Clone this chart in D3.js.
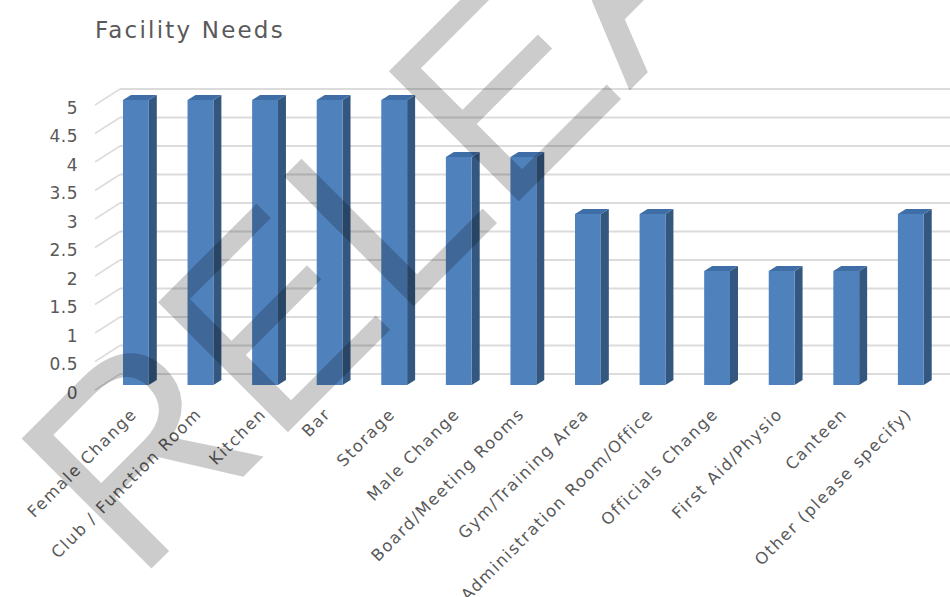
<!DOCTYPE html>
<html>
<head>
<meta charset="utf-8">
<script src="https://cdn.jsdelivr.net/npm/d3@7"></script>
<style>
  html, body { margin: 0; padding: 0; background: #ffffff; }
  svg { display: block; }
</style>
</head>
<body>
<svg id="chart" width="950" height="597"></svg>
<script>
const title = "Facility Needs";
const categories = [
  "Female Change", "Club / Function Room", "Kitchen", "Bar", "Storage",
  "Male Change", "Board/Meeting Rooms", "Gym/Training Area",
  "Administration Room/Office", "Officials Change", "First Aid/Physio",
  "Canteen", "Other (please specify)"
];
const values = [5, 5, 5, 5, 5, 4, 4, 3, 3, 2, 2, 2, 3];
const yTicks = [0, 0.5, 1, 1.5, 2, 2.5, 3, 3.5, 4, 4.5, 5];
const watermark = "RELEASED";

const svg = d3.select("#chart");
const W = 950, H = 597;

const x = d3.scaleBand()
  .domain(categories)
  .range([103.6, 943.1])
  .paddingInner(0.6)
  .paddingOuter(0.3);

const y = d3.scaleLinear().domain([0, 5]).range([385, 100]);

const depthX = 8, depthY = 5;
const wallBack = 11;

// Title
svg.append("text")
  .attr("x", 95).attr("y", 38)
  .attr("font-family", "DejaVu Sans, sans-serif")
  .attr("font-size", 23)
  .attr("letter-spacing", 2.2)
  .attr("fill", "#595959")
  .text(title);

// Gridlines (3D wall)
const grid = svg.append("g");
grid.selectAll("line.back").data(yTicks).join("line")
  .attr("class", "back")
  .attr("x1", 120).attr("x2", W)
  .attr("y1", d => y(d) - wallBack).attr("y2", d => y(d) - wallBack)
  .attr("stroke", "#dcdcdc").attr("stroke-width", 2.2);
grid.selectAll("line.side").data(yTicks).join("line")
  .attr("class", "side")
  .attr("x1", 95).attr("x2", 120)
  .attr("y1", d => y(d) + 5).attr("y2", d => y(d) - wallBack)
  .attr("stroke", "#dcdcdc").attr("stroke-width", 1.5);

// Y axis labels via d3 axis
const yAxis = d3.axisLeft(y).tickValues(yTicks).tickSize(0).tickPadding(0)
  .tickFormat(d3.format("~g"));
const yg = svg.append("g").attr("transform", "translate(78,8)").call(yAxis);
yg.select(".domain").remove();
yg.selectAll("text")
  .attr("font-family", "DejaVu Sans, sans-serif")
  .attr("font-size", 17)
  .attr("letter-spacing", 0.5)
  .attr("fill", "#595959");

// Bars
const data = categories.map((c, i) => ({ c, v: values[i] }));
const bw = x.bandwidth();
const bars = svg.append("g");
const bg = bars.selectAll("g.bar").data(data).join("g").attr("class", "bar");

bg.append("polygon")
  .attr("points", d => {
    const x0 = x(d.c) + bw, yt = y(d.v), yb = y(0);
    return [[x0, yt], [x0 + depthX, yt - depthY], [x0 + depthX, yb - depthY], [x0, yb]].join(" ");
  })
  .attr("fill", "#34577f");
bg.append("polygon")
  .attr("points", d => {
    const x0 = x(d.c), yt = y(d.v);
    return [[x0, yt], [x0 + depthX, yt - depthY], [x0 + bw + depthX, yt - depthY], [x0 + bw, yt]].join(" ");
  })
  .attr("fill", "#3f6ea6");
bg.append("rect")
  .attr("x", d => x(d.c))
  .attr("y", d => y(d.v))
  .attr("width", bw)
  .attr("height", d => y(0) - y(d.v))
  .attr("fill", "#4f81bd");

// Category labels
const xg = svg.append("g");
xg.selectAll("text").data(categories).join("text")
  .attr("transform", d => `translate(${x(d) + bw / 2 + 2},415) rotate(-45)`)
  .attr("text-anchor", "end")
  .attr("font-family", "DejaVu Sans, sans-serif")
  .attr("font-size", 16.3)
  .attr("letter-spacing", 1.55)
  .attr("fill", "#595959")
  .text(d => d);

// Watermark
svg.append("text")
  .attr("transform", "translate(136,584) rotate(-45)")
  .attr("font-family", "Liberation Sans, Arial, sans-serif")
  .attr("font-size", 267)
  .attr("fill", "#000")
  .attr("fill-opacity", 0.2)
  .text(watermark);
</script>
</body>
</html>
